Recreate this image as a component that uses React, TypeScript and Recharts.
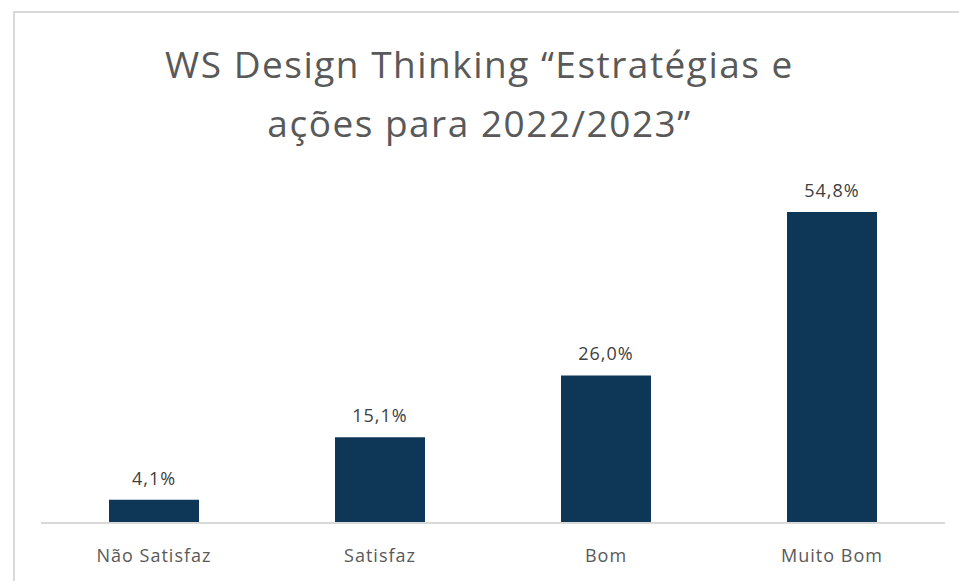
import React from 'react';
import { BarChart, Bar, XAxis, YAxis, LabelList } from 'recharts';

const categories = ['Não Satisfaz', 'Satisfaz', 'Bom', 'Muito Bom'];
const percentages = [4.1, 15.1, 26.0, 54.8];
const titleLines = ['WS Design Thinking “Estratégias e', 'ações para 2022/2023”'];

const data = categories.map((name, i) => ({ name, value: percentages[i] }));

const font = '"Open Sans", "Noto Sans", sans-serif';

const formatPct = (v: any) => `${Number(v).toFixed(1).replace('.', ',')}%`;

const App = () => {
  return (
    <div style={{ position: 'absolute', left: 0, top: 0, width: 959, height: 581, overflow: 'hidden', background: '#fff', fontFamily: font }}>
      {/* moldura do gráfico */}
      <div
        style={{
          position: 'absolute',
          left: 13,
          top: 11,
          width: 960,
          height: 620,
          border: '2px solid #d9d9d9',
        }}
      />
      {/* título em duas linhas */}
      {titleLines.map((line, i) => (
        <div
          key={i}
          style={{
            position: 'absolute',
            left: 0,
            width: 959,
            top: 42 + i * 59,
            textAlign: 'center',
            fontSize: 37,
            letterSpacing: 1.5,
            lineHeight: '44px',
            color: '#595959',
          }}
        >
          {line}
        </div>
      ))}
      <div style={{ position: 'absolute', left: 0, top: 0 }}>
        <BarChart
          width={959}
          height={581}
          data={data}
          margin={{ top: 182.5, right: 14, left: 41, bottom: 28 }}
          barCategoryGap="0%"
        >
          <YAxis hide domain={[0, 60]} />
          <XAxis
            dataKey="name"
            height={30}
            axisLine={{ stroke: '#d9d9d9', strokeWidth: 2 }}
            tickLine={false}
            tick={{ fill: '#595959', fontSize: 18, fontFamily: font, letterSpacing: 1 }}
            tickMargin={20}
            interval={0}
          />
          <Bar dataKey="value" fill="#0e3657" barSize={90} isAnimationActive={false}>
            <LabelList
              dataKey="value"
              position="top"
              offset={15}
              formatter={formatPct}
              style={{ fill: '#404040', fontSize: 18, fontFamily: font, letterSpacing: 1 }}
            />
          </Bar>
        </BarChart>
      </div>
    </div>
  );
};

export default App;
